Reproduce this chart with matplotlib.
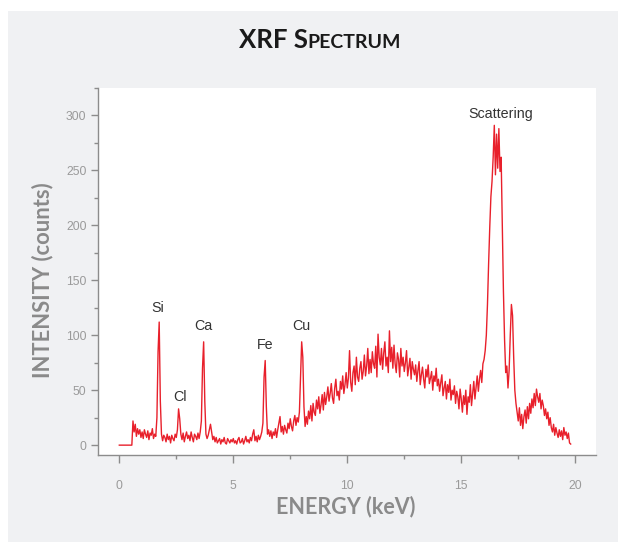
import matplotlib.pyplot as plt
import numpy as np
from matplotlib.patches import Rectangle
from matplotlib.ticker import MultipleLocator

# spectrum counts, one row per keV, 0.05 keV channels
counts_rows = [
    [0, 0, 0, 0, 0, 0, 0, 0, 0, 0, 0, 0, 22, 12, 19, 8, 15, 10, 14, 7],
    [12, 6, 14, 10, 7, 13, 5, 11, 9, 15, 6, 10, 8, 25, 85, 112, 40, 10, 4, 9],
    [7, 3, 10, 5, 8, 2, 9, 6, 4, 10, 7, 14, 33, 24, 10, 5, 11, 3, 8, 12],
    [6, 9, 4, 12, 7, 3, 10, 8, 5, 11, 6, 12, 22, 70, 94, 40, 10, 6, 9, 14],
    [19, 12, 5, 8, 3, 7, 2, 4, 6, 1, 5, 3, 7, 2, 1, 6, 4, 2, 5, 3],
    [6, 2, 4, 1, 5, 7, 2, 3, 6, 1, 4, 8, 3, 5, 2, 7, 4, 10, 14, 4],
    [8, 3, 9, 5, 8, 12, 20, 62, 77, 35, 10, 14, 8, 13, 6, 12, 9, 15, 7, 14],
    [20, 26, 12, 17, 10, 18, 14, 11, 20, 15, 24, 17, 13, 22, 27, 18, 25, 21, 30, 62],
    [94, 80, 35, 17, 26, 19, 31, 24, 36, 22, 38, 30, 27, 41, 33, 44, 29, 37, 46, 32],
    [48, 37, 44, 53, 40, 47, 56, 43, 38, 52, 60, 45, 49, 41, 58, 51, 63, 47, 55, 66],
    [52, 61, 86, 57, 49, 66, 72, 55, 80, 62, 58, 70, 76, 60, 67, 82, 63, 72, 88, 65],
    [78, 66, 85, 74, 70, 90, 62, 101, 80, 73, 88, 69, 84, 94, 72, 80, 66, 104, 76, 89],
    [70, 91, 74, 66, 84, 78, 62, 88, 72, 80, 67, 75, 86, 63, 71, 79, 60, 76, 69, 64],
    [73, 58, 68, 76, 55, 64, 71, 60, 52, 69, 62, 73, 56, 61, 67, 50, 63, 58, 70, 54],
    [60, 49, 57, 64, 45, 52, 58, 42, 55, 48, 60, 41, 50, 46, 54, 38, 49, 44, 33, 51],
    [42, 30, 45, 37, 50, 28, 44, 39, 55, 36, 47, 58, 42, 53, 63, 49, 60, 68, 57, 74],
    [78, 86, 100, 128, 165, 198, 226, 240, 262, 291, 246, 283, 252, 288, 249, 262, 200, 140, 96, 66],
    [72, 52, 68, 100, 128, 118, 80, 50, 38, 30, 22, 34, 18, 28, 15, 26, 32, 20, 35, 24],
    [38, 29, 42, 34, 47, 36, 51, 44, 39, 47, 33, 41, 36, 27, 33, 24, 30, 18, 25, 16],
    [12, 19, 9, 16, 11, 7, 14, 8, 13, 5, 16, 9, 12, 6, 11, 2, 1],
]
energy_step = 0.05

peak_labels = ['Si', 'Cl', 'Ca', 'Fe', 'Cu', 'Scattering']
peak_label_x = [1.69, 2.66, 3.67, 6.39, 8.0, 16.73]
peak_label_y = [125, 44, 108, 91, 108, 301]

counts = np.concatenate([np.array(r, dtype=float) for r in counts_rows])
energy = np.arange(len(counts)) * energy_step

fig = plt.figure(figsize=(6.18, 5.43), dpi=100, facecolor='white')
fig.patches.append(Rectangle((8 / 618, 1 / 543), 610 / 618, 531 / 543,
                             transform=fig.transFigure, facecolor='#f0f1f3',
                             edgecolor='none', zorder=-10))

ax = fig.add_axes([0.158, 0.162, 0.806, 0.676])
ax.set_facecolor('white')
ax.plot(energy, counts, color='#e8202b', lw=1.0)

ax.set_xlim(-0.95, 20.9)
ax.set_ylim(-9, 325)
ax.xaxis.set_major_locator(MultipleLocator(5))
ax.xaxis.set_minor_locator(MultipleLocator(2.5))
ax.yaxis.set_major_locator(MultipleLocator(50))
ax.yaxis.set_minor_locator(MultipleLocator(25))

for s in ['top', 'right']:
    ax.spines[s].set_visible(False)
for s in ['left', 'bottom']:
    ax.spines[s].set_color('#8c8c8c')
    ax.spines[s].set_linewidth(1.0)

ax.tick_params(which='major', length=5, width=1, color='#8c8c8c',
               labelcolor='#9a9a9a', labelsize=8.8, pad=3)
ax.tick_params(which='minor', length=3, width=1, color='#8c8c8c')
ax.tick_params(axis='x', which='major', length=6, pad=12)
for lab in ax.get_xticklabels() + ax.get_yticklabels():
    lab.set_family('Liberation Sans')

for name, px, py in zip(peak_labels, peak_label_x, peak_label_y):
    ax.text(px, py, name, ha='center', va='center', fontsize=10.3,
            color='#333333', family='Liberation Sans')

fig.text(346 / 618, 1 - 507 / 543, 'ENERGY (keV)', ha='center', va='center',
         fontsize=15.5, fontweight='bold', color='#8a8a8a', family='Lato')
fig.text(43 / 618, 1 - 280 / 543, 'INTENSITY (counts)', ha='center', va='center',
         rotation=90, fontsize=15.8, fontweight='bold', color='#8a8a8a', family='Lato')

# small caps title built from two pieces
base_y = 1 - 48 / 543
t1 = fig.text(0, base_y, 'XRF S', fontsize=18.5, fontweight='bold',
              color='#1a1a1a', family='Lato', va='baseline')
t2 = fig.text(0, base_y, 'PECTRUM', fontsize=14, fontweight='bold',
              color='#1a1a1a', family='Lato', va='baseline')
r = fig.canvas.get_renderer()
w1 = t1.get_window_extent(r).width
w2 = t2.get_window_extent(r).width
x0 = 320 - (w1 + w2) / 2
t1.set_x(x0 / 618)
t2.set_x((x0 + w1) / 618)

fig.savefig('out.png', dpi=100, facecolor=fig.get_facecolor())
